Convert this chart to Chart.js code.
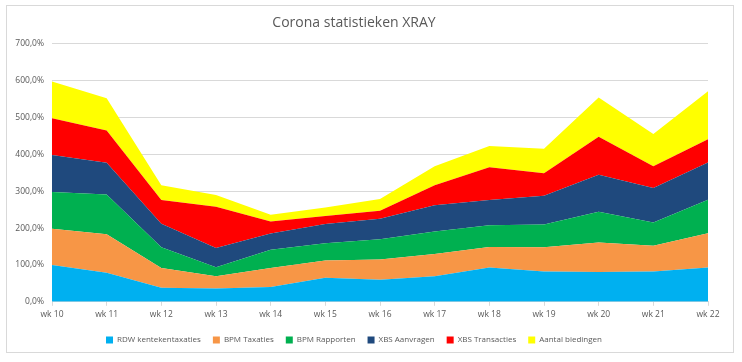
<!DOCTYPE html>
<html>
<head>
<meta charset="utf-8">
<script src="https://cdn.jsdelivr.net/npm/chart.js@4/dist/chart.umd.min.js"></script>
<style>
  body { margin: 0; background: #fff; }
  #wrap { width: 742px; height: 362px; position: relative; }
</style>
</head>
<body>
<div id="wrap"><canvas id="chart" width="742" height="362"></canvas></div>
<script>
const weeks = ['wk 10', 'wk 11', 'wk 12', 'wk 13', 'wk 14', 'wk 15', 'wk 16', 'wk 17', 'wk 18', 'wk 19', 'wk 20', 'wk 21', 'wk 22']
const rdwKentekentaxaties = [100, 79, 38, 36, 40, 65, 60, 69, 93, 82, 81, 82, 93]
const bpmTaxaties = [98, 104, 54, 33, 52, 47, 55, 61, 56, 66, 80, 70, 93]
const bpmRapporten = [100, 108, 56, 25, 49, 47, 55, 61, 59, 62, 83, 63, 91]
const xbsAanvragen = [100, 86, 64, 52, 44, 52, 55, 71, 68, 78, 101, 94, 101]
const xbsTransacties = [100, 88, 64, 112, 33, 22, 22, 54, 89, 61, 103, 59, 63]
const aantalBiedingen = [100, 87, 40, 32, 18, 23, 32, 52, 58, 66, 106, 87, 130]
const yTicks = [0, 100, 200, 300, 400, 500, 600, 700]

const series = [
  ['RDW kentekentaxaties', rdwKentekentaxaties, '#00B0F0'],
  ['BPM Taxaties', bpmTaxaties, '#F79646'],
  ['BPM Rapporten', bpmRapporten, '#00B050'],
  ['XBS Aanvragen', xbsAanvragen, '#1F497D'],
  ['XBS Transacties', xbsTransacties, '#FF0000'],
  ['Aantal biedingen', aantalBiedingen, '#FFFF00']
]

const frame = {
  id: 'frame',
  beforeDraw (chart) {
    const ctx = chart.ctx
    ctx.save()
    ctx.strokeStyle = '#d9d9d9'
    ctx.lineWidth = 1
    ctx.strokeRect(6.5, 5.5, 727, 347)
    ctx.restore()
  }
}

const grey = '#595959'

new Chart(document.getElementById('chart').getContext('2d'), {
  type: 'line',
  data: {
    labels: weeks,
    datasets: series.map((s, i) => ({
      label: s[0],
      data: s[1],
      backgroundColor: s[2],
      borderColor: s[2],
      borderWidth: 0,
      pointRadius: 0,
      fill: i === 0 ? 'origin' : '-1'
    }))
  },
  options: {
    responsive: false,
    animation: false,
    layout: { padding: { left: 0, right: 34, top: 0, bottom: 8 } },
    plugins: {
      title: {
        display: true,
        text: 'Corona statistieken XRAY',
        color: grey,
        font: { family: 'Open Sans', size: 14, weight: 'normal' },
        padding: { top: 15, bottom: 12 }
      },
      legend: {
        position: 'bottom',
        labels: {
          color: grey,
          font: { family: 'Open Sans', size: 8 },
          boxWidth: 7,
          boxHeight: 7,
          padding: 12,
          useBorderRadius: false
        }
      },
      tooltip: { enabled: false }
    },
    scales: {
      x: {
        offset: false,
        grid: { display: true, drawOnChartArea: false, tickLength: 4, color: '#d9d9d9' },
        border: { color: '#d9d9d9' },
        ticks: { color: grey, font: { family: 'Open Sans', size: 8.5 }, maxRotation: 0, padding: 4 }
      },
      y: {
        stacked: true,
        min: 0,
        max: 700,
        afterFit (scale) { scale.width = 52 },
        afterBuildTicks (scale) { scale.ticks = yTicks.map(v => ({ value: v })) },
        grid: { color: '#d9d9d9', drawTicks: false },
        border: { display: false },
        ticks: {
          color: grey,
          font: { family: 'Open Sans', size: 8.5 },
          padding: 8,
          callback: v => v.toFixed(1).replace('.', ',') + '%'
        }
      }
    }
  },
  plugins: [frame]
})
</script>
</body>
</html>
